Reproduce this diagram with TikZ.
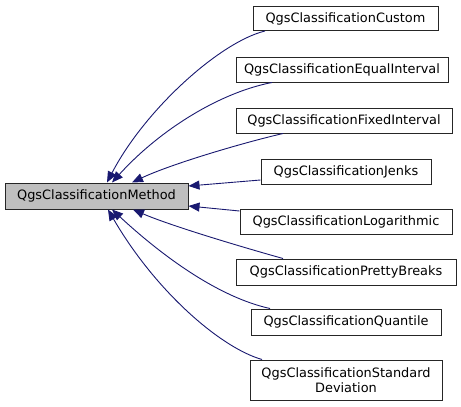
\documentclass[tikz,border=0pt]{standalone}
\usepackage{fontspec}
\setmainfont{DejaVu Sans}
\usetikzlibrary{arrows.meta}
\definecolor{edgeblue}{HTML}{191970}
\definecolor{basegray}{HTML}{BFBFBF}
\begin{document}
\begin{tikzpicture}[x=1pt,y=-1pt,
  box/.style={draw=black!85,line width=1pt,fill=white,inner sep=0pt,
    font=\fontsize{12.9}{15.5}\selectfont,align=center},
  edge/.style={draw=edgeblue,line width=0.9pt,-{Triangle[length=11pt,width=9pt]}}]
\useasboundingbox (0,0) rectangle (461,407);
\node[box,fill=basegray,minimum width=183pt,minimum height=26pt] (base) at (96.5,196) {QgsClassificationMethod};
\node[box,minimum width=185pt,minimum height=24pt] (custom) at (345.5,18.5) {QgsClassificationCustom};
\node[box,minimum width=212pt,minimum height=25pt] (equal) at (342,69.5) {QgsClassificationEqualInterval};
\node[box,minimum width=216pt,minimum height=25pt] (fixed) at (344,120.5) {QgsClassificationFixedInterval};
\node[box,minimum width=170pt,minimum height=25pt] (jenks) at (346,171.5) {QgsClassificationJenks};
\node[box,minimum width=212pt,minimum height=25pt] (log) at (346,221.5) {QgsClassificationLogarithmic};
\node[box,minimum width=220pt,minimum height=26pt] (pretty) at (346,272) {QgsClassificationPrettyBreaks};
\node[box,minimum width=190pt,minimum height=26pt] (quant) at (346,322) {QgsClassificationQuantile};
\node[box,minimum width=192pt,minimum height=40pt] (std) at (346,380) {QgsClassificationStandard\\Deviation};
% edges
\draw[edge] ([xshift=-80.5pt]custom.south) .. controls +(-45,11) and +(38,-73) .. ([xshift=10.5pt]base.north);
\draw[edge] ([xshift=-70pt]equal.south) .. controls +(-52,10) and +(48,-53) .. ([xshift=15.5pt]base.north);
\draw[edge] ([xshift=-61pt]fixed.south) .. controls +(-43,10) and +(38,-18) .. ([xshift=35.5pt]base.north);
\draw[edge] ([yshift=-8.5pt]jenks.west) -- ([yshift=10pt]base.east);
\draw[edge] ([yshift=10.5pt]log.west) -- ([yshift=-10pt]base.east);
\draw[edge] ([xshift=-63pt]pretty.north) .. controls +(-43,-12) and +(37,16) .. ([xshift=36.5pt]base.south);
\draw[edge] ([xshift=-76pt]quant.north) .. controls +(-50,-11) and +(53,49) .. ([xshift=15.5pt]base.south);
\draw[edge] ([xshift=-84pt]std.north) .. controls +(-42,-12) and +(47,81) .. ([xshift=11.5pt]base.south);
\end{tikzpicture}
\end{document}
